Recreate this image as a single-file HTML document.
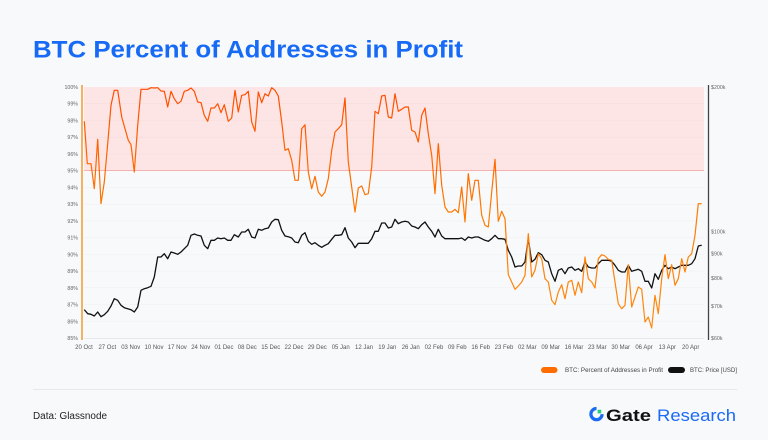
<!DOCTYPE html>
<html><head><meta charset="utf-8"><style>
html,body{margin:0;padding:0;background:#f8f9fb;}
svg{display:block;}
text{font-family:"Liberation Sans",Arial,sans-serif;}
</style></head><body>
<svg width="768" height="440" viewBox="0 0 768 440" xmlns="http://www.w3.org/2000/svg">
<defs>
<linearGradient id="og" x1="0" y1="85" x2="0" y2="340" gradientUnits="userSpaceOnUse">
<stop offset="0" stop-color="#ff4a00"/><stop offset="0.5" stop-color="#ff7a00"/><stop offset="1" stop-color="#ff8c10"/>
</linearGradient>
</defs>
<rect width="768" height="440" fill="#f8f9fb"/>
<text x="33" y="57.3" font-size="24" font-weight="bold" fill="#166af5" textLength="430" lengthAdjust="spacingAndGlyphs">BTC Percent of Addresses in Profit</text>

<!-- pink band -->
<rect x="84" y="87" width="620" height="83.7" fill="#fde5e5"/>
<g stroke="#000" stroke-opacity="0.035" stroke-width="0.6">
<line x1="84" x2="704" y1="103.7" y2="103.7"/><line x1="84" x2="704" y1="120.5" y2="120.5"/><line x1="84" x2="704" y1="137.2" y2="137.2"/><line x1="84" x2="704" y1="154" y2="154"/>
<line x1="84" x2="704" y1="187.4" y2="187.4"/><line x1="84" x2="704" y1="204.2" y2="204.2"/><line x1="84" x2="704" y1="220.9" y2="220.9"/><line x1="84" x2="704" y1="237.6" y2="237.6"/><line x1="84" x2="704" y1="254.4" y2="254.4"/><line x1="84" x2="704" y1="271.1" y2="271.1"/><line x1="84" x2="704" y1="287.8" y2="287.8"/><line x1="84" x2="704" y1="304.6" y2="304.6"/><line x1="84" x2="704" y1="321.3" y2="321.3"/>
</g>
<line x1="84" x2="704" y1="170.5" y2="170.5" stroke="#f7b0b0" stroke-width="1"/>
<line x1="84" x2="704" y1="338.5" y2="338.5" stroke="#e6e7ea" stroke-width="1"/>

<!-- axes -->
<line x1="82" x2="82" y1="85" y2="340" stroke="#f08a10" stroke-width="1.3"/>
<line x1="708.5" x2="708.5" y1="85" y2="340" stroke="#444" stroke-width="1.3"/>

<g font-size="5.3" fill="#666" text-anchor="end">
<text x="78" y="89">100%</text><text x="78" y="105.7">99%</text><text x="78" y="122.5">98%</text><text x="78" y="139.2">97%</text><text x="78" y="156">96%</text><text x="78" y="172.7">95%</text><text x="78" y="189.4">94%</text><text x="78" y="206.2">93%</text><text x="78" y="222.9">92%</text><text x="78" y="239.6">91%</text><text x="78" y="256.4">90%</text><text x="78" y="273.1">89%</text><text x="78" y="289.8">88%</text><text x="78" y="306.6">87%</text><text x="78" y="323.3">86%</text><text x="78" y="340">85%</text>
</g>
<g font-size="5.3" fill="#666">
<text x="711" y="89">$200k</text><text x="711" y="233.5">$100k</text><text x="711" y="255.5">$90k</text><text x="711" y="280">$80k</text><text x="711" y="308">$70k</text><text x="711" y="340">$60k</text>
</g>
<g font-size="6" fill="#555" text-anchor="middle">
<text x="84" y="349">20 Oct</text><text x="107.3" y="349">27 Oct</text><text x="130.7" y="349">03 Nov</text><text x="154" y="349">10 Nov</text><text x="177.3" y="349">17 Nov</text><text x="200.7" y="349">24 Nov</text><text x="224" y="349">01 Dec</text><text x="247.3" y="349">08 Dec</text><text x="270.7" y="349">15 Dec</text><text x="294" y="349">22 Dec</text><text x="317.3" y="349">29 Dec</text><text x="340.7" y="349">05 Jan</text><text x="364" y="349">12 Jan</text><text x="387.3" y="349">19 Jan</text><text x="410.7" y="349">26 Jan</text><text x="434" y="349">02 Feb</text><text x="457.3" y="349">09 Feb</text><text x="480.7" y="349">16 Feb</text><text x="504" y="349">23 Feb</text><text x="527.3" y="349">02 Mar</text><text x="550.7" y="349">09 Mar</text><text x="574" y="349">16 Mar</text><text x="597.3" y="349">23 Mar</text><text x="620.7" y="349">30 Mar</text><text x="644" y="349">06 Apr</text><text x="667.3" y="349">13 Apr</text><text x="690.7" y="349">20 Apr</text>
</g>

<!-- price -->
<polyline fill="none" stroke="#111" stroke-width="1.3" stroke-linejoin="round" points="84.3,309.7 87.7,313.7 91,314.3 94.3,316 97.7,312 101,316.7 104.3,314.7 107.7,311.3 111,306 114.3,298.7 117.7,300.3 121,305.3 124.3,307.7 127.7,308.7 131,309.7 134.3,312 137.7,307 141,290.3 144.3,288.7 147.7,287.7 151,286.3 154.3,277 157.7,257 161,257 164.3,253.7 167.7,258.7 171,252 174.3,253 177.7,254.3 181,252 184.3,248.7 187.7,245.3 191,235.3 194.3,234 197.7,235.3 201,236 204.3,245.3 207.7,248.7 211,240.3 214.3,240.3 217.7,238 221,238.7 224.3,238 227.7,240.3 231,240.3 234.3,234.7 238.3,237 241.7,232 245,232 248.3,229.3 251.7,237 255,238 258.3,229.3 261.7,230.3 265,228.7 268.3,228 271.7,222 275,219.3 278.3,219.7 281.7,230.3 285,236 288.3,236.7 291.7,238 295,242 298.3,242.7 301.7,235.3 305,232.7 308.3,241.3 311.7,244.3 315,242.7 318.3,245.3 321.7,247.3 325,245.3 328.3,243.7 331.7,239.3 335,235.3 338.3,235.3 341.7,234.7 345,227.7 348.3,238 351.7,242 355,247.7 358.3,243.3 361.7,243.3 365,243.3 368.3,243.3 371.7,238.7 375,231.3 378.3,231.3 381.7,223 385,223 388.3,228 391.7,227 395,219.3 398.3,223.7 401.7,222 405,221.3 408.3,222 411.7,226 415,227 418.3,228.7 421.7,224.7 425,222 428.3,227 431.7,231.3 435,237 438.3,229.3 441.7,236 445,238.7 448.3,238.7 451.7,238.7 455,238.7 458.3,238.7 461.7,238 465,240.3 468.3,237 471.7,238 475,237 478.3,237 481.7,238.7 485,240.3 488.3,241.3 491.7,238.7 495,235.3 498.3,238.7 501.7,238.7 505,239.3 508.3,250.3 511.7,257 515,267 518.3,266 521.7,266 525,262 528.3,238.7 531.7,262 535,259.3 538.3,252.7 541.7,254.7 545,260.3 548.3,262 551.7,273.7 555,281.3 558.3,270.3 561.7,268.7 565,273.7 568.3,268 571.7,267 575,270.3 578.3,268.7 581.7,271.3 585,262 588.3,267 591.7,268 595,268 598.3,263.7 601.7,260.3 605,260.3 608.3,260.3 611.7,261.3 615,265.3 618.3,270.3 621.7,272 625,272 628.3,265.3 631.7,271.3 635,270.3 638.3,269.3 641.7,271.3 645,281.3 648.3,281.3 651.7,288 655,273.7 658.3,279.3 661.7,270.3 665,265.3 668.3,268.7 671.7,267 675,268.7 678.3,267 681.7,265.3 685,265.3 688.3,265.3 691.7,263.7 695,258.7 698.3,246 701.7,245.3"/>

<!-- percent -->
<polyline fill="none" stroke="url(#og)" stroke-width="1.2" stroke-linejoin="round" points="84.3,121.3 87.3,163.7 91,163.7 94.3,188.7 97.7,139.3 101,203.7 104.3,182 107.7,143.7 111,105.3 114.3,90.3 117.7,90.3 121.7,117 125,128.7 128.3,140.3 131,144.7 134.3,172 137.7,125.3 141,89.3 144.3,89.3 147.7,89.3 151,87.7 154.3,88 157.7,87.7 161,91 164.3,91.3 167.7,107 171,91.3 174.3,98.7 177.7,103.7 181,101.3 184.3,91.3 187.7,90.3 191,88 194.3,91.3 197.7,102 201,102.7 204.3,115.3 207.7,121.3 211,108 214.3,108 217.7,103.7 221,112.7 224.3,104.7 228.3,121.3 231.7,118 235,90.3 238.3,112 241.7,95.3 245,94.7 248.3,91.3 251.7,122 255,131.3 258.3,92 261.7,102.7 265,93.7 268.3,96 271.7,87.7 275,90.3 278.3,96 281.7,122 285,150.3 288.3,148.7 291.7,160.3 295,180.3 298.3,180.3 301.7,128.7 305,124.7 308.3,172 311.7,188.7 315,176.3 318.3,192 321.7,196.3 325,192 328.3,178.7 331.7,150.3 335,132 338.3,128.7 341.7,124.7 345,98 348.3,162 351.7,187 355,212 358.3,188 361.7,186 365,194.7 368.3,193.7 371.7,167 375,111.3 378.3,113.7 381.7,96 385,95.3 388.3,117 391.7,118 395,93.7 398.3,111.3 401.7,109.3 405,107 408.3,107 411.7,130.3 415,132 418.3,142 421.7,115.3 425,108 428.3,133.7 431.7,155.3 435,193.7 438.3,143.7 441.7,185.3 445,207 448.3,212 451.7,212 455,209.3 458.3,212.7 461.7,187 465,222 468.3,173.7 471.7,200.3 475,180.3 478.3,180.3 481.7,215.3 485,225.3 488.3,227 491.7,192 495,159.3 498.3,221.3 501.7,211.3 505,218.7 508.3,274.7 511.7,282 515,289.3 518.3,286 521.7,282 525,275.3 528.3,233.7 531.7,277 535,270.3 538.3,253.7 541.7,258.7 545,278.7 548.3,282 551.7,300.3 555,304.7 558.3,292 561.7,284.7 565,298.7 568.3,282 571.7,280.3 575,295.3 578.3,282 581.7,292.7 585,257 588.3,278.7 591.7,282 595,288 598.3,258.7 601.7,254.7 605,256 608.3,259.3 611.7,260.3 615,282 618.3,303.7 621.7,308.7 625,305.3 628.3,264.7 631.7,307 635,297 638.3,287 641.7,289.3 645,322 648.3,317 651.7,328 655,295.3 658.3,313.7 661.7,278.7 665,254.7 668.3,278.7 671.7,264.7 675,285.3 678.3,278.7 681.7,258.7 685,272 688.3,257 691.7,253.7 695,235.3 698.3,203.7 701.7,203.7"/>

<!-- legend -->
<rect x="541" y="367" width="16.5" height="6" rx="3" fill="#ff6d00"/>
<text x="565" y="372" font-size="6" fill="#444" textLength="98" lengthAdjust="spacingAndGlyphs">BTC: Percent of Addresses in Profit</text>
<rect x="668" y="367" width="17" height="6" rx="3" fill="#111"/>
<text x="690" y="372" font-size="6" fill="#444" textLength="47" lengthAdjust="spacingAndGlyphs">BTC: Price [USD]</text>

<line x1="33" x2="737" y1="389.5" y2="389.5" stroke="#e6e8ec" stroke-width="1"/>

<text x="33" y="419" font-size="10" fill="#222" textLength="74" lengthAdjust="spacingAndGlyphs">Data: Glassnode</text>

<!-- logo -->
<path d="M596.5,408.5 A5.6,5.6 0 1 0 602.1,414.1" fill="none" stroke="#1a6af4" stroke-width="3.2"/>
<rect x="597.6" y="409.8" width="3.6" height="3.6" fill="#1fd07a"/>
<text x="606" y="421" font-size="16.5" font-weight="bold" fill="#111" textLength="45" lengthAdjust="spacingAndGlyphs">Gate</text>
<text x="657" y="421" font-size="16.5" fill="#1a6af4" textLength="79" lengthAdjust="spacingAndGlyphs">Research</text>
</svg>
</body></html>
